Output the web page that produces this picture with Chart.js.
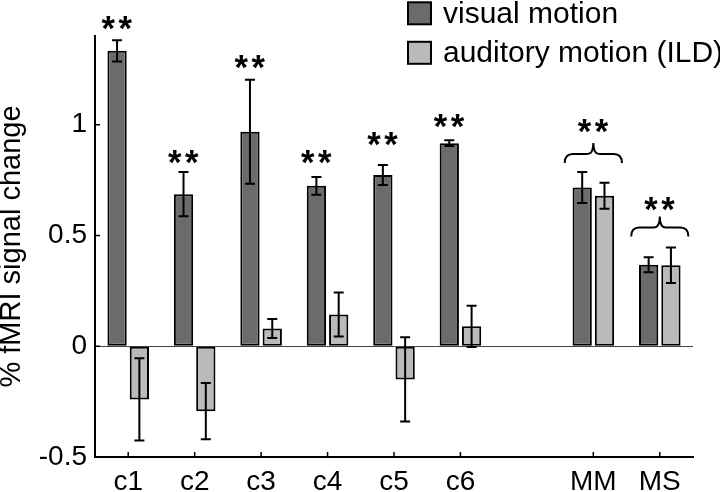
<!DOCTYPE html>
<html><head><meta charset="utf-8">
<script src="https://cdn.jsdelivr.net/npm/chart.js@4"></script>
<style>html,body{margin:0;padding:0;background:#fff;overflow:hidden;}</style>
</head><body>
<canvas id="c" width="720" height="492" style="display:block;width:720px;height:492px"></canvas>
<script>
const categories = ['c1','c2','c3','c4','c5','c6','','MM','MS'];
const seriesNames = ['visual motion', 'auditory motion (ILD)'];
const visualMotion = [1.333, 0.686, 0.968, 0.724, 0.773, 0.916, null, 0.716, 0.368];
const visualErr    = [0.048, 0.100, 0.235, 0.040, 0.045, 0.013, null, 0.070, 0.034];
const auditoryMotion = [-0.240, -0.293, 0.080, 0.143, -0.150, 0.090, null, 0.679, 0.365];
const auditoryErr    = [0.186, 0.127, 0.043, 0.099, 0.190, 0.093, null, 0.059, 0.080];
const starLevel  = [1.458, 0.852, 1.284, 0.852, 0.935, 1.017, null, 0.994, 0.643];
const braceLevel = [null, null, null, null, null, null, null, 0.868, 0.536];
const yTicks = [-0.5, 0, 0.5, 1];

const FONT = '"Liberation Sans", Arial, sans-serif';
const COLORS = ['#6b6b6b', '#bababa'];

const overlay = {
  id: 'overlay',
  afterDatasetsDraw(chart) {
    const ctx = chart.ctx, xs = chart.scales.x, ys = chart.scales.y, area = chart.chartArea;
    ctx.save();
    ctx.strokeStyle = '#000';
    ctx.lineWidth = 2;
    const errs = [visualErr, auditoryErr];
    chart.data.datasets.forEach((ds, di) => {
      const meta = chart.getDatasetMeta(di);
      meta.data.forEach((el, i) => {
        const v = ds.data[i], e = errs[di][i];
        if (v == null || e == null) return;
        const x = el.x;
        const y1 = ys.getPixelForValue(v + e), y2 = ys.getPixelForValue(v - e);
        ctx.beginPath();
        ctx.moveTo(x, y1); ctx.lineTo(x, y2);
        ctx.moveTo(x - 5, y1); ctx.lineTo(x + 5, y1);
        ctx.moveTo(x - 5, y2); ctx.lineTo(x + 5, y2);
        ctx.stroke();
      });
    });
    // inward tick marks
    ctx.lineWidth = 1.5;
    ctx.beginPath();
    ys.ticks.forEach(t => {
      const py = ys.getPixelForValue(t.value);
      ctx.moveTo(area.left, py); ctx.lineTo(area.left + 5, py);
    });
    categories.forEach((c, i) => {
      if (!c) return;
      const px = xs.getPixelForValue(i);
      ctx.moveTo(px, area.bottom); ctx.lineTo(px, area.bottom - 5);
    });
    ctx.stroke();
    ctx.restore();
  },
  afterDraw(chart) {
    const ctx = chart.ctx, xs = chart.scales.x, ys = chart.scales.y;
    ctx.save();
    // stars
    ctx.font = 'bold 100px ' + FONT;
    let m = ctx.measureText('*');
    const inkW = m.actualBoundingBoxLeft + m.actualBoundingBoxRight;
    const size = 100 * 13.5 / inkW;
    ctx.font = 'bold ' + size + 'px ' + FONT;
    m = ctx.measureText('*');
    const asc = m.actualBoundingBoxAscent, desc = m.actualBoundingBoxDescent;
    const lft = m.actualBoundingBoxLeft, rgt = m.actualBoundingBoxRight;
    ctx.fillStyle = '#000';
    ctx.textAlign = 'left';
    ctx.textBaseline = 'alphabetic';
    const visMeta = chart.getDatasetMeta(0);
    starLevel.forEach((s, i) => {
      if (s == null) return;
      const cx = braceLevel[i] != null ? xs.getPixelForValue(i) : visMeta.data[i].x;
      const cy = ys.getPixelForValue(s);
      const base = cy + (asc - desc) / 2;
      [-8.5, 8.5].forEach(dx => {
        const inkCx = cx + dx;
        ctx.fillText('*', inkCx - (rgt - lft) / 2, base);
      });
    });
    // braces
    ctx.strokeStyle = '#000';
    ctx.lineWidth = 2;
    const catW = xs.getPixelForValue(1) - xs.getPixelForValue(0);
    braceLevel.forEach((b, i) => {
      if (b == null) return;
      const xm = xs.getPixelForValue(i);
      const x0 = xm - catW * 0.43, x1 = xm + catW * 0.43;
      const y = ys.getPixelForValue(b);
      ctx.beginPath();
      ctx.moveTo(x0, y + 9);
      ctx.quadraticCurveTo(x0, y, x0 + 8, y);
      ctx.lineTo(xm - 6, y);
      ctx.quadraticCurveTo(xm, y, xm, y - 11);
      ctx.quadraticCurveTo(xm, y, xm + 6, y);
      ctx.lineTo(x1 - 8, y);
      ctx.quadraticCurveTo(x1, y, x1, y + 9);
      ctx.stroke();
    });
    // legend
    const rows = [13.3, 52.8];
    ctx.font = '30px ' + FONT;
    ctx.textBaseline = 'alphabetic';
    ctx.textAlign = 'left';
    chart.data.datasets.forEach((ds, di) => {
      const cy = rows[di];
      ctx.fillStyle = ds.backgroundColor;
      ctx.fillRect(408, cy - 11, 23, 22);
      ctx.lineWidth = 2;
      ctx.strokeStyle = '#000';
      ctx.strokeRect(408, cy - 11, 23, 22);
      ctx.fillStyle = '#000';
      ctx.fillText(ds.label, 443, cy + 9.5);
    });
    ctx.restore();
  }
};

new Chart(document.getElementById('c'), {
  type: 'bar',
  data: {
    labels: categories,
    datasets: [
      { label: seriesNames[0], data: visualMotion, backgroundColor: COLORS[0], borderColor: '#000', borderWidth: 2, borderSkipped: false },
      { label: seriesNames[1], data: auditoryMotion, backgroundColor: COLORS[1], borderColor: '#000', borderWidth: 2, borderSkipped: false }
    ]
  },
  options: {
    responsive: false,
    animation: false,
    devicePixelRatio: 1,
    categoryPercentage: 0.671,
    barPercentage: 0.865,
    layout: { padding: { top: 36, right: 27, left: 0, bottom: 0 } },
    plugins: { legend: { display: false }, tooltip: { enabled: false } },
    scales: {
      x: {
        grid: { display: false, drawTicks: false },
        border: { display: true, color: '#000', width: 2 },
        ticks: { color: '#000', font: { family: FONT, size: 28 }, padding: 8, maxRotation: 0, autoSkip: false },
        afterFit(scale) { scale.height = 35; }
      },
      y: {
        min: -0.5, max: 1.4,
        afterBuildTicks(scale) { scale.ticks = yTicks.map(v => ({ value: v })); },
        grid: {
          drawTicks: false,
          lineWidth: 1,
          color: c => (c.tick && c.tick.value === 0) ? '#444' : 'rgba(0,0,0,0)'
        },
        border: { display: true, color: '#000', width: 2 },
        ticks: { color: '#000', font: { family: FONT, size: 28 }, padding: 8, callback: v => String(v) },
        title: { display: true, text: '% fMRI signal change', color: '#000', font: { family: FONT, size: 29, lineHeight: 0.86 }, padding: 0 },
        afterFit(scale) { scale.width = 95; }
      }
    }
  },
  plugins: [overlay]
});
</script>
</body></html>
